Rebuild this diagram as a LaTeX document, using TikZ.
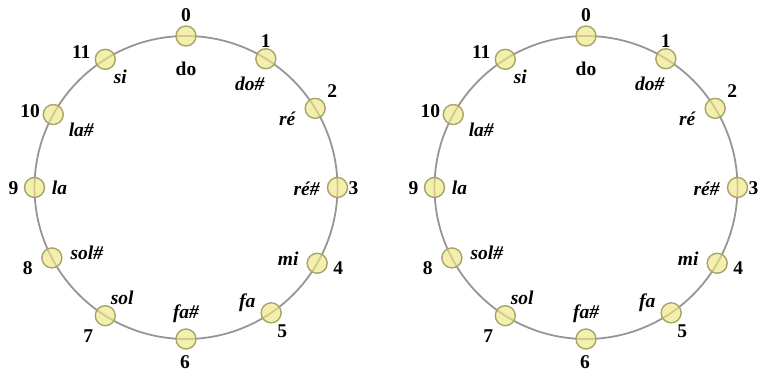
\documentclass[tikz,border=0pt]{standalone}
\usepackage{fontspec}
\setmainfont{Liberation Serif}
\definecolor{ringgray}{RGB}{150,150,150}
\definecolor{pcfill}{RGB}{238,230,130}
\definecolor{pcline}{RGB}{168,164,104}
\begin{document}
\begin{tikzpicture}[x=1pt,y=1pt,
    ring/.style={draw=ringgray,line width=1.8pt},
    pc/.style={circle,draw=pcline,fill=pcfill,fill opacity=0.65,draw opacity=1,
      line width=1.4pt,minimum size=20pt,inner sep=0pt},
    num/.style={font=\fontsize{19.5}{21}\selectfont\bfseries,inner sep=0pt},
    nom/.style={font=\fontsize{19.5}{21}\selectfont\bfseries\itshape,inner sep=0pt}]
  \useasboundingbox (0,0) rectangle (760,376);
  % two identical pitch-class clocks
  \foreach \s/\cx in {L/186,R/586}{
    \begin{scope}[shift={(\cx,188.5)}]
      \draw[ring] (0,0) circle (151.5);
      \foreach \k/\a/\nx/\ny/\name/\mx/\my in {
          0/0/0/21/{\upshape do}/0/-33,
          1/31.8/0/18/do\#/-16/-25,
          2/58.5/17/17/ré/-28/-10,
          3/90/16/-1/ré\#/-31/-1,
          4/120/21/-5/mi/-29/5,
          5/145.8/11/-18/fa/-24/10,
          6/180/-1/-23/fa\#/0/25,
          7/212.2/-17/-20/sol/17/18,
          8/242.3/-24/-10/sol\#/35/5,
          9/270/-21/-1/la/25/0,
          10/298.8/-23/3/la\#/28/-15,
          11/327.8/-24/7/si/15/-18}{
        \node[pc] (\s\k) at (90-\a:151.5) {};
        \node[num] (\s num\k) at ([shift={(\nx,\ny)}]\s\k) {\k};
        \node[nom] (\s nom\k) at ([shift={(\mx,\my)}]\s\k) {\name};
      }
    \end{scope}
  }
\end{tikzpicture}
\end{document}
